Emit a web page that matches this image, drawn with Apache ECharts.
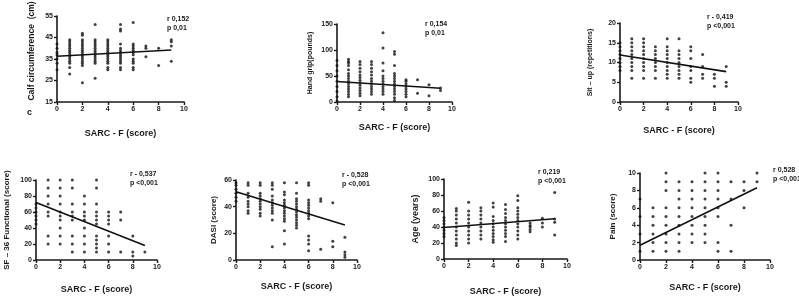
<!DOCTYPE html>
<html>
<head>
<meta charset="utf-8">
<script src="https://cdn.jsdelivr.net/npm/echarts@6/dist/echarts.min.js"></script>
<style>
  html, body { margin: 0; padding: 0; background: #fff; }
  #main { width: 799px; height: 297px; }
</style>
</head>
<body>
<div id="main"></div>
<script>
// SARC-F score on every x axis
var sarcScores = [0, 1, 2, 3, 4, 5, 6, 7, 8, 9];

// values read per SARC-F score (index = score)
var calfValues = [
  [30, 33, 35, 37, 38, 40, 42],
  [28, 31, 33, 34, 35, 36, 37, 38, 39, 40, 41, 42, 43, 44],
  [24, 32, 33, 34, 35, 36, 37, 38, 39, 40, 41, 42, 43, 44, 46, 47],
  [26, 33, 34, 35, 36, 37, 38, 39, 40, 41, 42, 43, 44, 51],
  [30, 31, 33, 34, 35, 36, 37, 38, 39, 40, 41, 42, 43, 44],
  [30, 31, 33, 34, 35, 36, 37, 38, 39, 40, 42, 48, 49, 51],
  [30, 31, 33, 34, 35, 37, 38, 39, 40, 41, 42, 52],
  [36, 40, 41],
  [32, 40],
  [34, 41, 43, 44]
];
var gripValues = [
  [2, 10, 20, 30, 40, 50, 60, 70, 80],
  [10, 15, 20, 25, 30, 35, 40, 45, 50, 55, 62, 70, 75, 78, 82],
  [12, 17, 22, 27, 32, 37, 42, 47, 52, 58, 65, 72, 78],
  [15, 20, 25, 30, 35, 40, 45, 52, 58, 65, 72, 78],
  [15, 20, 25, 30, 35, 40, 45, 50, 60, 75, 104, 133],
  [3, 8, 15, 20, 25, 30, 35, 40, 45, 50, 55, 70, 92, 97],
  [10, 15, 20, 25, 30, 35, 40, 43],
  [17, 43],
  [12, 33],
  [22, 27]
];
var situpValues = [
  [8, 9, 10, 11, 12, 13, 14, 15],
  [6, 8, 9, 10, 11, 12, 13, 14, 15, 16],
  [6, 8, 9, 10, 11, 12, 13, 14, 15, 16],
  [6, 8, 9, 10, 11, 12, 13, 14],
  [6, 7, 8, 9, 10, 11, 12, 13, 14, 16],
  [6, 7, 8, 9, 10, 11, 12, 13, 16],
  [5, 6, 8, 9, 11, 13, 14],
  [6, 7, 9, 12],
  [4, 6, 7],
  [4, 5, 9]
];
var sf36Values = [
  [45, 50, 55, 60, 65, 70],
  [20, 30, 55, 60, 70, 80, 90, 100],
  [20, 30, 40, 50, 55, 60, 70, 80, 90, 100],
  [10, 20, 30, 50, 55, 60, 70, 90, 100],
  [10, 20, 30, 40, 50, 55, 60, 70, 80],
  [10, 15, 20, 25, 30, 45, 50, 55, 60, 70, 90, 100],
  [10, 20, 30, 45, 50, 55, 60],
  [10, 50, 60],
  [5, 10, 30],
  [10]
];
var dasiValues = [
  [44, 47, 50, 53, 56, 58],
  [35, 37, 40, 42, 44, 47, 50, 56, 58],
  [33, 35, 38, 40, 42, 44, 46, 48, 50, 56, 58],
  [10, 30, 35, 37, 39, 41, 43, 45, 48, 53, 56, 58],
  [12, 22, 29, 31, 33, 35, 37, 39, 41, 43, 45, 49, 51, 58],
  [24, 26, 28, 30, 32, 34, 36, 38, 40, 42, 44, 46, 50, 58],
  [7, 12, 15, 18, 31, 33, 35, 37, 39, 41, 43, 45, 56, 58],
  [8, 44, 46],
  [10, 14, 43],
  [2, 4, 6, 17]
];
var ageValues = [
  [28, 32, 36, 40, 44, 48, 52],
  [17, 20, 25, 30, 35, 40, 45, 50, 55, 60, 63],
  [20, 25, 30, 35, 40, 45, 50, 55, 60, 71],
  [25, 30, 35, 40, 45, 50, 55, 60, 64],
  [21, 24, 28, 32, 36, 40, 44, 48, 53, 65, 70],
  [22, 28, 32, 36, 40, 44, 48, 52, 57, 62, 68],
  [25, 30, 35, 40, 44, 48, 52, 56, 60, 64, 73, 79],
  [34, 37, 40, 42, 45],
  [40, 45, 51],
  [30, 46, 50, 83]
];
var painValues = [
  [1, 3, 5, 7],
  [1, 2, 3, 4, 5, 6],
  [1, 2, 3, 4, 5, 6, 8, 9, 10],
  [1, 2, 3, 4, 5, 6, 7, 8, 9],
  [2, 3, 4, 5, 6, 7, 8, 9],
  [2, 3, 4, 5, 6, 7, 8, 9, 10],
  [1, 2, 5, 6, 7, 8, 9, 10],
  [1, 4, 7, 9],
  [6, 8, 9],
  [9, 10]
];

// fitted lines: value at score 0 and at score 9
var calfFit = [36.3, 39.2];
var gripFit = [39.3, 26.4];
var situpFit = [11.9, 7.7];
var sf36Fit = [72, 18];
var dasiFit = [51.2, 26.2];
var ageFit = [39.4, 50.3];
var painFit = [1.7, 8.3];

var panels = [
  { vals: calfValues, fit: calfFit, min: 15, max: 55, step: 10, yName: '', ySize: 10, yGap: 22,
    grid: { left: 57, top: 16, width: 127, height: 86 }, r: 'r 0,152', p: 'p 0,01', tx: 167, ty: 15, xGap: 27 },
  { vals: gripValues, fit: gripFit, min: 0, max: 150, step: 50, yName: 'Hand grip(pounds)', ySize: 7, yGap: 23,
    grid: { left: 337, top: 24, width: 115, height: 78 }, r: 'r 0,154', p: 'p 0,01', tx: 425, ty: 20, xGap: 21 },
  { vals: situpValues, fit: situpFit, min: 0, max: 20, step: 5, yName: 'Sit \u2013 up (repetitions)', ySize: 7, yGap: 26,
    grid: { left: 620, top: 23, width: 118, height: 79 }, r: 'r - 0,419', p: 'p <0,001', tx: 707, ty: 13, xGap: 24 },
  { vals: sf36Values, fit: sf36Fit, min: 0, max: 100, step: 20, yName: 'SF \u2013 36 Functional (score)', ySize: 8, yGap: 25,
    grid: { left: 36, top: 180, width: 121, height: 80 }, r: 'r - 0,537', p: 'p <0,001', tx: 130, ty: 170, xGap: 25 },
  { vals: dasiValues, fit: dasiFit, min: 0, max: 60, step: 20, yName: 'DASI (score)', ySize: 8, yGap: 18,
    grid: { left: 236, top: 180, width: 121, height: 80 }, r: 'r - 0,528', p: 'p <0,001', tx: 342, ty: 171, xGap: 22 },
  { vals: ageValues, fit: ageFit, min: 0, max: 100, step: 20, yName: 'Age (years)', ySize: 9, yGap: 24,
    grid: { left: 444, top: 179, width: 123, height: 80 }, r: 'r 0,219', p: 'p <0,001', tx: 538, ty: 168, xGap: 28 },
  { vals: painValues, fit: painFit, min: 0, max: 10, step: 2, yName: 'Pain (score)', ySize: 8, yGap: 23,
    grid: { left: 640, top: 173, width: 130, height: 87 }, r: 'r 0,528', p: 'p <0,001', tx: 773, ty: 166, xGap: 23 }
];

var font = 'Liberation Sans';
var ink = '#1a1a1a';

var chartDom = document.getElementById('main');
var myChart = echarts.init(chartDom);

var grids = [], xAxes = [], yAxes = [], series = [], graphics = [];

panels.forEach(function (pn, i) {
  grids.push(pn.grid);
  var axisCommon = {
    gridIndex: i,
    type: 'value',
    splitLine: { show: false },
    axisLine: { show: true, onZero: false, lineStyle: { color: ink, width: 1.6 } },
    axisTick: { show: true, length: 3, lineStyle: { color: ink, width: 1.4 } },
    axisLabel: { color: ink, fontSize: 7, fontWeight: 'bold', fontFamily: font, margin: 4 }
  };
  xAxes.push(Object.assign({}, axisCommon, {
    min: 0, max: 10, interval: 2,
    name: 'SARC - F (score)', nameLocation: 'middle', nameGap: pn.xGap,
    nameTextStyle: { color: ink, fontSize: 9, fontWeight: 'bold', fontFamily: font }
  }));
  yAxes.push(Object.assign({}, axisCommon, {
    min: pn.min, max: pn.max, interval: pn.step,
    name: pn.yName, nameLocation: 'middle', nameGap: pn.yGap, nameRotate: 90,
    nameTextStyle: { color: ink, fontSize: pn.ySize, fontWeight: 'bold', fontFamily: font }
  }));
  var pts = [];
  pn.vals.forEach(function (list, k) {
    list.forEach(function (v) { pts.push([sarcScores[k], v]); });
  });
  series.push({
    type: 'scatter', xAxisIndex: i, yAxisIndex: i, data: pts,
    symbolSize: 3, itemStyle: { color: '#111' }, silent: true
  });
  series.push({
    type: 'line', xAxisIndex: i, yAxisIndex: i,
    data: [[sarcScores[0], pn.fit[0]], [sarcScores[9], pn.fit[1]]],
    showSymbol: false, symbol: 'none', lineStyle: { color: '#111', width: 1.6 }, silent: true
  });
  graphics.push({
    type: 'text', left: pn.tx, top: pn.ty,
    style: { text: pn.r + '\n' + pn.p, fill: ink, font: 'bold 7px ' + font, lineHeight: 9 }
  });
});

// first panel's y title sits higher than the axis middle
graphics.push({
  type: 'text', x: 32, y: 51, rotation: Math.PI / 2,
  style: { text: 'Calf circumference  (cm)', fill: ink, font: 'bold 8.5px ' + font,
    align: 'center', verticalAlign: 'middle' }
});
graphics.push({
  type: 'text', left: 27, top: 108,
  style: { text: 'c', fill: ink, font: 'bold 9px ' + font }
});

var option = {
  backgroundColor: '#fff',
  animation: false,
  grid: grids,
  xAxis: xAxes,
  yAxis: yAxes,
  series: series,
  graphic: graphics
};

option && myChart.setOption(option);
</script>
</body>
</html>
